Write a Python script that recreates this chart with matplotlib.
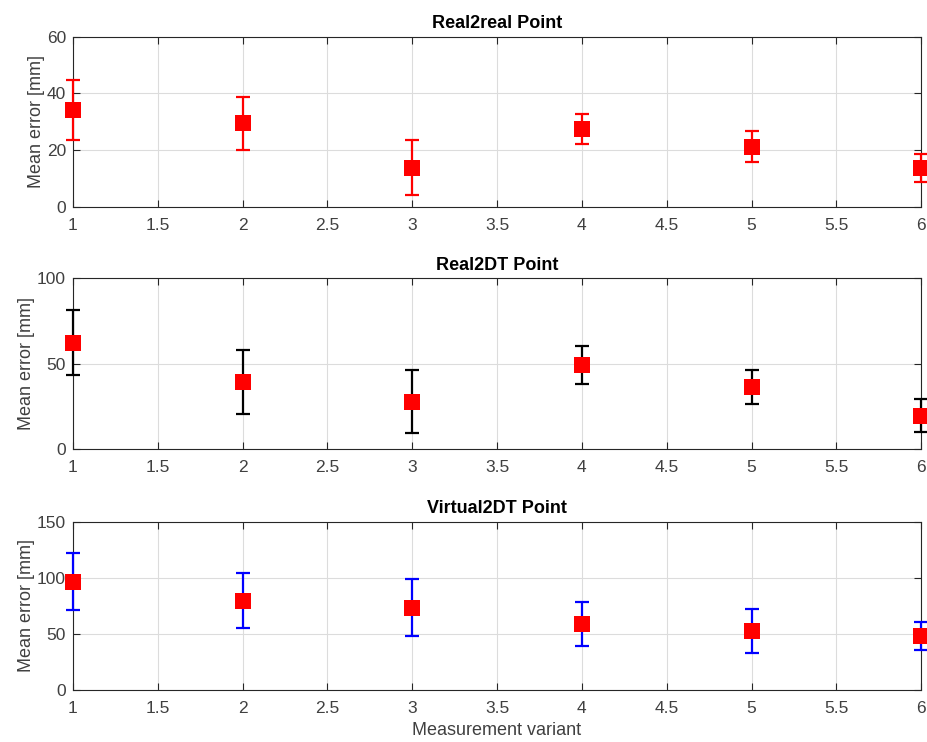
import numpy as np
import matplotlib.pyplot as plt

plt.rcParams['font.family'] = ['Liberation Sans', 'DejaVu Sans']

# data
variant = [1, 2, 3, 4, 5, 6]

real2real_mean = [34.1, 29.4, 13.8, 27.6, 21.2, 13.8]
real2real_err = [10.6, 9.4, 9.8, 5.3, 5.5, 4.9]

real2dt_mean = [62.3, 39.5, 27.8, 49.3, 36.6, 19.7]
real2dt_err = [19.0, 18.7, 18.3, 11.1, 10.0, 9.7]

virtual2dt_mean = [96.5, 79.6, 73.4, 58.8, 52.6, 48.4]
virtual2dt_err = [25.5, 24.7, 25.7, 19.5, 19.8, 12.4]

titles = ["Real2real Point", "Real2DT Point", "Virtual2DT Point"]
ylims = [(0, 60), (0, 100), (0, 150)]
yticks = [[0, 20, 40, 60], [0, 50, 100], [0, 50, 100, 150]]
err_colors = ["#ff0000", "#000000", "#0000ff"]

means = [real2real_mean, real2dt_mean, virtual2dt_mean]
errs = [real2real_err, real2dt_err, virtual2dt_err]

fig = plt.figure(figsize=(9.27, 7.42), dpi=100)
positions = [
    [0.0787, 0.7214, 0.915, 0.2291],
    [0.0787, 0.3945, 0.915, 0.2304],
    [0.0787, 0.0701, 0.915, 0.2268],
]

txt = "#404040"
line_col = "#262626"

for i in range(3):
    ax = fig.add_axes(positions[i])
    eb = ax.errorbar(variant, means[i], yerr=errs[i], fmt="none",
                     ecolor=err_colors[i], elinewidth=1.6, capsize=5, capthick=1.6,
                     zorder=3)
    for art in eb.lines[1] + eb.lines[2]:
        art.set_clip_on(False)
    ax.plot(variant, means[i], "s", color="#ff0000", markersize=11,
            markeredgewidth=0, zorder=4, clip_on=False)

    ax.set_xlim(1, 6)
    ax.set_ylim(*ylims[i])
    ax.set_xticks(np.arange(1, 6.01, 0.5))
    ax.set_xticklabels(["1", "1.5", "2", "2.5", "3", "3.5", "4", "4.5", "5", "5.5", "6"])
    ax.set_yticks(yticks[i])
    ax.grid(True, color="#dcdcdc", linewidth=0.8)
    ax.set_axisbelow(True)
    ax.tick_params(direction="in", top=True, right=True, length=5,
                   labelsize=12.5, color=line_col, labelcolor=txt, width=0.8)
    ax.tick_params(axis="x", pad=8)
    ax.tick_params(axis="y", pad=5)
    for s in ax.spines.values():
        s.set_color(line_col)
        s.set_linewidth(0.8)
    ax.set_title(titles[i], fontsize=13, fontweight="bold", color="#000000", pad=6)
    ax.set_ylabel("Mean error [mm]", fontsize=13, color=txt, labelpad=1.5)
    if i == 2:
        ax.set_xlabel("Measurement variant", fontsize=13, color=txt, labelpad=4)

fig.savefig("out.png", dpi=100)
